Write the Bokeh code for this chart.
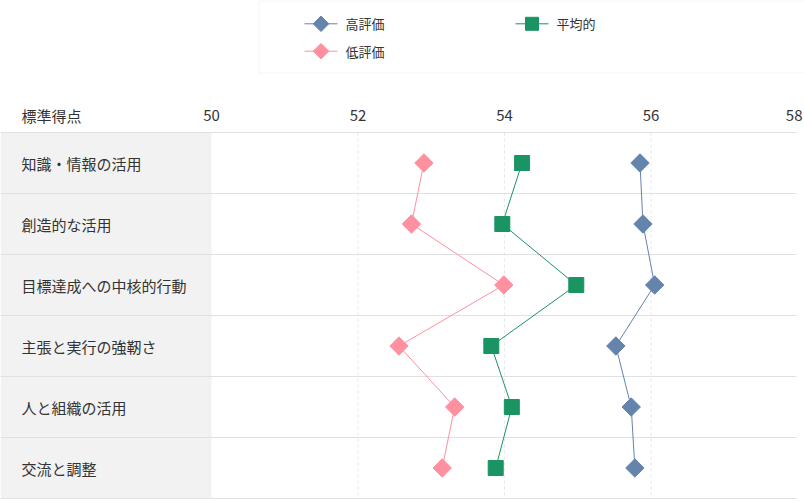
import math
from bokeh.plotting import figure
from bokeh.models import Range1d, BoxAnnotation, ColumnDataSource
from bokeh.core.properties import value, field
from bokeh.embed import file_html
from bokeh.resources import INLINE

# ---- data ----
categories = ["知識・情報の活用", "創造的な活用", "目標達成への中核的行動",
              "主張と実行の強靭さ", "人と組織の活用", "交流と調整"]
high = [55.85, 55.89, 56.05, 55.52, 55.73, 55.78]
average = [54.24, 53.97, 54.98, 53.82, 54.10, 53.88]
low = [52.90, 52.73, 53.99, 52.56, 53.32, 53.15]
ticks = [50, 52, 54, 56, 58]
header_label = "標準得点"
series_names = ["高評価", "平均的", "低評価"]

# ---- styles / layout ----
BLUE, GREEN, PINK = "#6483ad", "#1a9462", "#ff909f"
FONT = value("Noto Sans CJK JP")
TXT = "#333333"
W, H = 804, 501
X0_PX, X1_PX = 211, 797      # pixel positions of first / last tick
TABLE_RIGHT = 796
ROW_TOP = 132
ROW_H = 61

px_per_x = (X1_PX - X0_PX) / (ticks[-1] - ticks[0])
x_start = ticks[0] - X0_PX / px_per_x
x_end = x_start + W / px_per_x
n = len(categories)
y_top = -0.5 - ROW_TOP / ROW_H
y_bottom = y_top + H / ROW_H


def px_x(px):
    return x_start + px / px_per_x


def px_y(py):
    return y_top + py / ROW_H


p = figure(width=W, height=H, x_range=Range1d(x_start, x_end),
           y_range=Range1d(y_bottom, y_top), output_backend="svg",
           toolbar_location=None, min_border=0, x_axis_location=None,
           y_axis_location=None)
p.outline_line_color = None
p.grid.visible = False

rows = list(range(n))

# label column background
p.quad(left=x_start, right=ticks[0], top=-0.5, bottom=n - 0.5,
       fill_color="#f2f2f2", line_color=None)

# row separators
seps = [i - 0.5 for i in range(n + 1)]
p.segment(x0=x_start, x1=px_x(TABLE_RIGHT), y0=seps, y1=seps,
          line_color="#e0e0e0", line_width=1)

# dashed vertical grid
inner = ticks[1:-1]
p.segment(x0=inner, x1=inner, y0=-0.5, y1=n - 0.5, line_color="#e6e6e6",
          line_width=1, line_dash="3 3")

# series
series = [
    dict(vals=high, color=BLUE, marker_angle=math.pi / 4, size=13),
    dict(vals=average, color=GREEN, marker_angle=0.0, size=15),
    dict(vals=low, color=PINK, marker_angle=math.pi / 4, size=13),
]
for s in series:
    p.line(s["vals"], rows, line_color=s["color"], line_width=1)
    p.scatter(s["vals"], rows, marker="square", angle=s["marker_angle"],
              size=s["size"], fill_color=s["color"], line_color=s["color"])

# category labels
p.text(x=x_start, y=rows, text=categories, x_offset=21, text_baseline="middle",
       text_font=FONT, text_font_size="15px", text_color=TXT)

# header row
header_y = px_y(115)
p.text(x=x_start, y=[header_y], text=[header_label], x_offset=21,
       text_baseline="middle", text_font=FONT, text_font_size="15px", text_color=TXT)
hsrc = ColumnDataSource(dict(
    x=ticks, y=[header_y] * len(ticks), text=[str(t) for t in ticks],
    align=["right" if t == ticks[-1] else "center" for t in ticks],
    xoff=[5 if t == ticks[-1] else 0 for t in ticks]))
p.text(x="x", y="y", text="text", source=hsrc, text_align=field("align"),
       x_offset=field("xoff"), text_baseline="middle", text_font=FONT,
       text_font_size="15px", text_color=TXT)

# legend frame
p.add_layout(BoxAnnotation(left=px_x(258.5), right=x_end + 1, top=px_y(0.5),
                           bottom=px_y(72.5), fill_alpha=0, line_color="#dcdcdc",
                           line_width=1))

# legend entries (2 columns, row-major)
LEG_X, LEG_COL_W, LEG_Y, LEG_ROW_H, GLYPH_W = 304, 211, 23.3, 27.4, 33
for i, (name, s) in enumerate(zip(series_names, series)):
    col, row = i % 2, i // 2
    gx0 = LEG_X + col * LEG_COL_W
    gy = px_y(LEG_Y + row * LEG_ROW_H)
    p.line([px_x(gx0), px_x(gx0 + GLYPH_W)], [gy, gy], line_color=s["color"], line_width=1)
    p.scatter([px_x(gx0 + GLYPH_W / 2)], [gy], marker="square", angle=s["marker_angle"],
              size=s["size"] - 2, fill_color=s["color"], line_color=s["color"])
    p.text(x=[px_x(gx0 + GLYPH_W + 8)], y=[gy], text=[name], text_baseline="middle",
           text_font=FONT, text_font_size="13px", text_color=TXT)

open("out.html", "w").write(file_html(p, INLINE))
